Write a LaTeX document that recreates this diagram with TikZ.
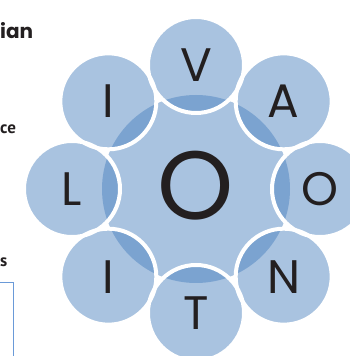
\documentclass[tikz,border=0pt]{standalone}
\usepackage{fontspec}
\setmainfont{Poppins}
\newfontfamily\sidefont{PT Sans}
\definecolor{ringblue}{HTML}{A9C3E0}
\definecolor{overlapblue}{HTML}{7BA3D0}
\definecolor{boxblue}{HTML}{6A9AD8}
\definecolor{letterblack}{HTML}{231F20}

\begin{document}
\begin{tikzpicture}[x=1pt,y=1pt,
    letter/.style={font=\fontsize{47}{47}\selectfont, text=letterblack, inner sep=0pt},
    sidetext/.style={anchor=base west, inner sep=0pt, text=letterblack}]
    \useasboundingbox (0,0) rectangle (350,356);
    \coordinate (c) at (196,167);

    % mittlere Scheibe
    \fill[ringblue] (c) circle (94);

    % Blaetter
    \foreach \a in {90,45,...,-225}
        \fill[ringblue] ([shift={(\a:124)}]c) circle (48);

    % Ueberlappung mit der Scheibe
    \begin{scope}
        \clip (c) circle (94);
        \foreach \a in {90,45,...,-225}
            \fill[overlapblue] ([shift={(\a:124)}]c) circle (48);
    \end{scope}

    % weisse Raender
    \foreach \a in {90,45,...,-225}
        \draw[white, line width=4] ([shift={(\a:124)}]c) circle (48);

    % Buchstaben
    \foreach \a/\t/\n in {90/V/v,45/A/a,0/O/o,-45/N/n,-90/T/t,-135/I/ilow,180/L/l,135/I/iup}
        \node[letter] (\n) at ([shift={(\a:124)}]c) {\t};
    \node[letter, font=\fontsize{97}{97}\selectfont] (hub) at ([yshift=3]c) {O};

    % Reste vom Text links
    \node[sidetext, font=\fontsize{20}{20}\bfseries] (head) at (0,317.7) {ian};
    \node[sidetext, font=\sidefont\bfseries\fontsize{17}{17}\selectfont] (line1) at (0,222) {ce};
    \node[sidetext, font=\sidefont\bfseries\fontsize{17}{17}\selectfont] (line2) at (0,89) {s};
    \draw[boxblue, line width=1.5] (0,73.3) -- (13.3,73.3) -- (13.3,0);
\end{tikzpicture}
\end{document}
